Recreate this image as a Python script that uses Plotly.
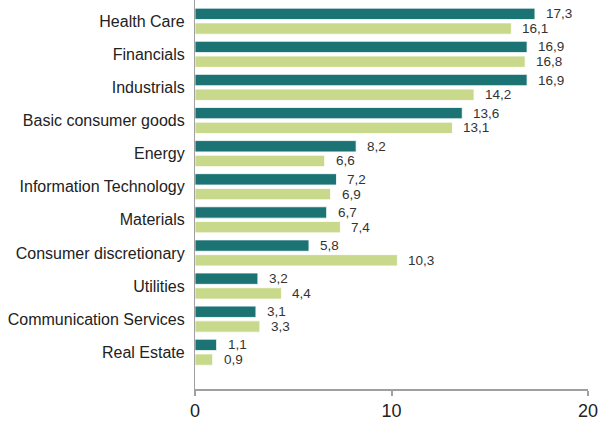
import plotly.graph_objects as go

sectors = ["Health Care", "Financials", "Industrials", "Basic consumer goods", "Energy",
           "Information Technology", "Materials", "Consumer discretionary", "Utilities",
           "Communication Services", "Real Estate"]
series_a = [17.3, 16.9, 16.9, 13.6, 8.2, 7.2, 6.7, 5.8, 3.2, 3.1, 1.1]
series_b = [16.1, 16.8, 14.2, 13.1, 6.6, 6.9, 7.4, 10.3, 4.4, 3.3, 0.9]

dark = "#1b7374"
light = "#c9d98b"
bargap = 0.11
bargroupgap = 0.23

fig = go.Figure()
fig.add_trace(go.Bar(y=sectors, x=series_a, orientation="h",
                     marker=dict(color=dark, line=dict(color="white", width=0.8)), showlegend=False))
fig.add_trace(go.Bar(y=sectors, x=series_b, orientation="h",
                     marker=dict(color=light, line=dict(color="white", width=0.8)), showlegend=False))

# value labels to the right of each bar, centred on the bar
off = (1 - bargap) / 4
for vals, d in ((series_a, -off), (series_b, off)):
    for i, v in enumerate(vals):
        fig.add_annotation(x=v, y=i + d, xref="x", yref="y", text=f"{v:.1f}".replace(".", ","),
                           showarrow=False, xanchor="left", yanchor="middle", xshift=9,
                           font=dict(size=13.5, color="#333333", family="Liberation Sans, Arial"))

fig.update_layout(
    width=599, height=421,
    margin=dict(l=195, r=11, t=0, b=26),
    paper_bgcolor="white", plot_bgcolor="white",
    barmode="group", bargap=bargap, bargroupgap=bargroupgap,
    font=dict(family="Liberation Sans, Arial", color="#222222"),
)
fig.update_xaxes(range=[0, 20], tickvals=[0, 10, 20], showgrid=False, zeroline=False,
                 showline=True, linecolor="#a0a0a0", linewidth=1.5,
                 ticks="outside", ticklen=5, tickcolor="#a0a0a0", tickwidth=1.5,
                 tickfont=dict(size=18, color="#222222"))
fig.update_yaxes(type="category", categoryorder="array", categoryarray=sectors,
                 range=[11.11, -0.64], showgrid=False, zeroline=False,
                 showline=True, linecolor="#a0a0a0", linewidth=1.2, ticks="",
                 ticklabelstandoff=6, tickfont=dict(size=16, color="#222222"))

fig.write_html("out.html")
